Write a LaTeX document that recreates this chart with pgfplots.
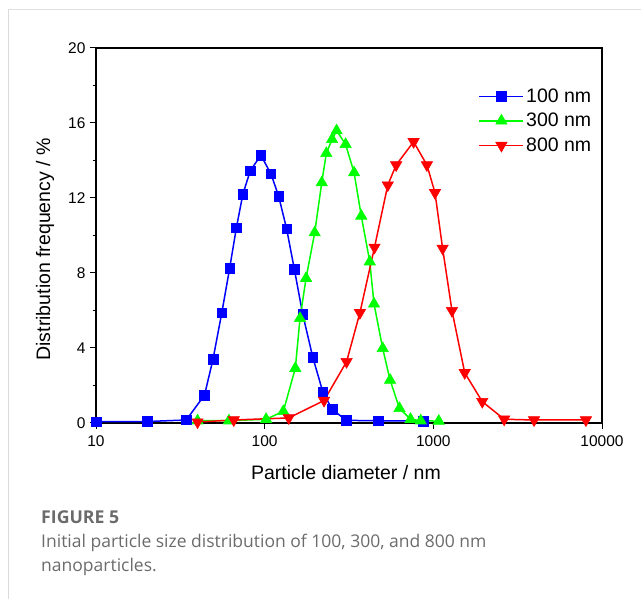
\documentclass[border=0pt]{standalone}
\usepackage{fontspec}
\setmainfont{Liberation Sans}
\newfontfamily\capfont{Open Sans}
\usepackage{pgfplots}
\pgfplotsset{compat=1.18}
\definecolor{capgray}{HTML}{6B6B6B}
\definecolor{cblue}{HTML}{0000FF}
\definecolor{cgreen}{HTML}{00FF00}
\definecolor{cred}{HTML}{FF0000}
\begin{document}
\begin{tikzpicture}
\path[use as bounding box] (0pt,0pt) rectangle (641pt,599pt);
\fill[black!12] (8pt,588.5pt) rectangle (641pt,590pt);
\fill[black!14] (8pt,0pt) rectangle (9.2pt,590pt);
\begin{axis}[
  at={(96pt,176pt)}, anchor=south west,
  width=506pt, height=375pt, scale only axis,
  xmode=log, log basis x=10,
  xmin=10, xmax=10000, ymin=0, ymax=20,
  xtick={10,100,1000,10000}, xticklabels={10,100,1000,10000},
  ytick={0,4,...,20}, minor ytick={2,6,...,18},
  xtick pos=bottom, ytick pos=left,
  tick align=outside,
  major tick length=6pt, minor tick length=3.5pt,
  every tick/.style={black, line width=1pt},
  axis line style={line width=1.2pt},
  /pgf/number format/assume math mode=true,
  tick label style={font=\fontsize{15.5}{17}\selectfont},
  x tick label style={yshift=-3pt},
  y tick label style={xshift=-1pt},
  xlabel={Particle diameter / nm},
  ylabel={Distribution frequency / \%},
  label style={font=\fontsize{19.5}{22}\selectfont},
  x label style={at={(axis description cs:0.494,-0.133)}, anchor=center},
  y label style={at={(axis description cs:-0.1008,0.463)}, anchor=center},
  legend style={at={(rel axis cs:0.985,0.9)}, anchor=north east, draw=none, fill=none,
    font=\fontsize{19.5}{22}\selectfont, row sep=5.5pt, inner sep=1pt},
  legend cell align=left,
  legend image code/.code={
    \draw[line width=1.5pt, mark repeat=2,mark phase=2,#1] plot coordinates {(0pt,0pt) (22pt,0pt) (44pt,0pt)};
  },
]
\addplot[cblue, line width=1.5pt, mark=square*, mark size=4.8pt, mark options={solid, fill=cblue, line width=0.6pt}] coordinates {
(10,0.07) (20.2,0.08) (34.3,0.16) (44,1.49) (49.4,3.40) (55.7,5.88) (62,8.25)
(68,10.42) (74.3,12.21) (82.2,13.46) (95,14.28) (109,13.28) (121,12.1)
(135,10.35) (150,8.2) (168,5.81) (193,3.5) (221,1.67) (251,0.73) (305,0.14)
(471,0.12) (875,0.1)
};
\addlegendentry{100 nm}
\addplot[cgreen, line width=1.5pt, mark=triangle*, mark size=6.5pt, mark options={solid, fill=cgreen, line width=0.6pt}] coordinates {
(40,0.12) (61.4,0.12) (102,0.2) (129,0.62) (152,2.92) (162,5.58) (176,7.72)
(198,10.15) (218,12.82) (232,14.38) (251,15.13) (267,15.59) (302,14.86)
(339,13.35) (374,11.04) (420,8.6) (445,6.35) (501,3.98) (554,2.29) (630,0.78)
(733,0.2) (842,0.12) (1077,0.1)
};
\addlegendentry{300 nm}
\addplot[cred, line width=1.5pt, mark=triangle*, mark size=6.5pt, mark options={solid, fill=cred, rotate=180, line width=0.6pt}] coordinates {
(40,0.05) (65.6,0.16) (139,0.27) (225,1.2) (306,3.27) (367,5.88) (448,9.37)
(537,12.69) (602,13.76) (764,15.0) (916,13.76) (1023,12.28) (1135,9.31)
(1290,5.99) (1535,2.68) (1950,1.14) (2630,0.2) (3955,0.16) (8030,0.16)
};
\addlegendentry{800 nm}
\end{axis}
\node[anchor=west, inner sep=0pt, text=capgray, font=\capfont\bfseries\fontsize{17.7}{20}\selectfont] at (41pt,82pt) {FIGURE 5};
\node[anchor=west, inner sep=0pt, text=capgray, font=\capfont\fontsize{17.5}{20}\selectfont] at (41pt,56pt) {Initial particle size distribution of 100, 300, and 800 nm};
\node[anchor=west, inner sep=0pt, text=capgray, font=\capfont\fontsize{17.5}{20}\selectfont] at (41pt,32pt) {nanoparticles.};
\end{tikzpicture}
\end{document}
